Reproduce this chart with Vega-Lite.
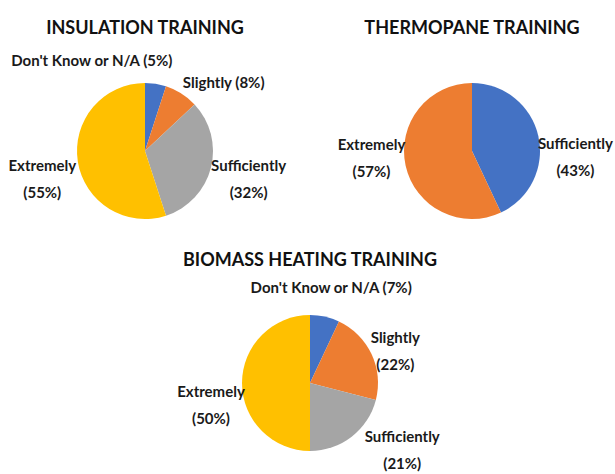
{
  "$schema": "https://vega.github.io/schema/vega-lite/v6.json",
  "background": "white",
  "padding": {"left": 5, "top": 20, "right": 0, "bottom": 0},
  "spacing": 1,
  "config": {
    "view": {"stroke": "transparent"},
    "title": {"font": "Lato", "fontSize": 18, "fontWeight": "bold", "color": "#111111", "baseline": "alphabetic", "anchor": "middle", "offset": 13},
    "text": {"font": "Lato", "fontSize": 15, "fontWeight": "bold", "lineBreak": "\n", "lineHeight": 27, "baseline": "middle", "color": "#1a1a1a"},
    "arc": {"strokeWidth": 0}
  },
  "datasets": {
    "insulation": [
      {"category": "Don't Know or N/A", "pct": 5, "idx": 1, "label": "Don't Know or N/A (5%)"},
      {"category": "Slightly", "pct": 8, "idx": 2, "label": "Slightly (8%)"},
      {"category": "Sufficiently", "pct": 32, "idx": 3, "label": "Sufficiently\n(32%)"},
      {"category": "Extremely", "pct": 55, "idx": 4, "label": "Extremely\n(55%)"}
    ],
    "thermopane": [
      {"category": "Sufficiently", "pct": 43, "idx": 1, "label": "Sufficiently\n(43%)"},
      {"category": "Extremely", "pct": 57, "idx": 2, "label": "Extremely\n(57%)"}
    ],
    "biomass": [
      {"category": "Don't Know or N/A", "pct": 7, "idx": 1, "label": "Don't Know or N/A (7%)"},
      {"category": "Slightly", "pct": 22, "idx": 2, "label": "Slightly\n(22%)"},
      {"category": "Sufficiently", "pct": 21, "idx": 3, "label": "Sufficiently\n(21%)"},
      {"category": "Extremely", "pct": 50, "idx": 4, "label": "Extremely\n(50%)"}
    ]
  },
  "vconcat": [
    {
      "bounds": "flush",
      "spacing": 45,
      "hconcat": [
        {
          "width": 280, "height": 200,
          "title": {"text": "INSULATION TRAINING", "offset": 13},
          "data": {"name": "insulation"},
          "encoding": {
            "theta": {"field": "pct", "type": "quantitative", "stack": true},
            "order": {"field": "idx", "type": "quantitative"},
            "color": {"field": "idx", "type": "ordinal", "scale": {"domain": [1, 2, 3, 4], "range": ["#4472C4", "#ED7D31", "#A5A5A5", "#FFC000"]}, "legend": null}
          },
          "layer": [
            {"mark": {"type": "arc", "outerRadius": 68}},
            {"mark": {"type": "text",
                      "radius": {"expr": "[92, 80, 107, 104][datum.idx - 1]"},
                      "align": {"expr": "['right', 'left', 'center', 'center'][datum.idx - 1]"},
                      "dx": {"expr": "[13, -5, 0, 0][datum.idx - 1]"},
                      "dy": {"expr": "[1, 0, -12, -1][datum.idx - 1]"}},
             "encoding": {"text": {"field": "label", "type": "nominal"}, "color": {"value": "#1a1a1a"}, "detail": {"field": "idx"}}}
          ]
        },
        {
          "width": 284, "height": 200,
          "title": {"text": "THERMOPANE TRAINING", "offset": 13},
          "data": {"name": "thermopane"},
          "encoding": {
            "theta": {"field": "pct", "type": "quantitative", "stack": true},
            "order": {"field": "idx", "type": "quantitative"},
            "color": {"field": "idx", "type": "ordinal", "scale": {"domain": [1, 2, 3, 4], "range": ["#4472C4", "#ED7D31", "#A5A5A5", "#FFC000"]}, "legend": null}
          },
          "layer": [
            {"mark": {"type": "arc", "outerRadius": 68}},
            {"mark": {"type": "text", "align": "center",
                      "radius": {"expr": "[106, 103][datum.idx - 1]"},
                      "dy": {"expr": "[16, -28][datum.idx - 1]"}},
             "encoding": {"text": {"field": "label", "type": "nominal"}, "color": {"value": "#1a1a1a"}, "detail": {"field": "idx"}}}
          ]
        }
      ]
    },
    {
      "width": 610, "height": 160,
      "title": {"text": "BIOMASS HEATING TRAINING", "offset": 11},
      "data": {"name": "biomass"},
      "encoding": {
        "theta": {"field": "pct", "type": "quantitative", "stack": true},
        "order": {"field": "idx", "type": "quantitative"},
        "color": {"field": "idx", "type": "ordinal", "scale": {"domain": [1, 2, 3, 4], "range": ["#4472C4", "#ED7D31", "#A5A5A5", "#FFC000"]}, "legend": null}
      },
      "layer": [
        {"mark": {"type": "arc", "outerRadius": 68}},
        {"mark": {"type": "text", "align": "center",
                  "radius": {"expr": "[97, 91, 113, 99][datum.idx - 1]"},
                  "dx": {"expr": "[0, 3, 23, 0][datum.idx - 1]"},
                  "dy": {"expr": "[0, -6, -35, 9][datum.idx - 1]"}},
         "encoding": {"text": {"field": "label", "type": "nominal"}, "color": {"value": "#1a1a1a"}, "detail": {"field": "idx"}}}
      ]
    }
  ]
}
